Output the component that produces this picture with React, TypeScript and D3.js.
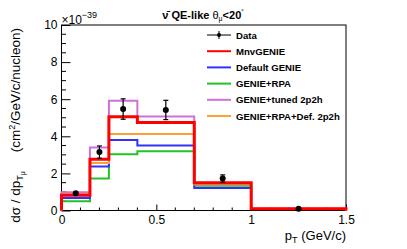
import * as d3 from 'd3';
import { useEffect, useRef } from 'react';

// bin edges in pT (GeV/c)
const binEdges = [0, 0.15, 0.25, 0.4, 0.7, 1.0, 1.5];

// cross sections, units of 1e-39 cm^2/GeV/c/nucleon
const mnvGenie = [0.82, 2.76, 5.05, 4.74, 1.5, 0.1];
const defaultGenie = [0.68, 2.37, 3.8, 3.51, 1.21, 0.08];
const genieRpa = [0.5, 1.72, 3.03, 3.19, 1.34, 0.08];
const genieTuned2p2h = [0.99, 3.39, 5.91, 5.07, 1.45, 0.1];
const genieRpaDef2p2h = [0.9, 2.56, 4.12, 4.12, 1.4, 0.09];

const dataX = [0.075, 0.2, 0.325, 0.55, 0.85, 1.25];
const dataY = [0.93, 3.15, 5.47, 5.42, 1.72, 0.1];
const dataErr = [0.08, 0.33, 0.55, 0.52, 0.2, 0.03];

const legendLabels = ['Data', 'MnvGENIE', 'Default GENIE', 'GENIE+RPA', 'GENIE+tuned 2p2h', 'GENIE+RPA+Def. 2p2h'];
const yTicks = [0, 2, 4, 6, 8, 10];
const xTicks = [0, 0.5, 1, 1.5];

const FONT = '"Liberation Sans", Arial, Helvetica, sans-serif';

function App() {
    const ref = useRef<SVGSVGElement>(null);

    useEffect(() => {
        const svg = d3.select(ref.current);
        svg.selectAll('*').remove();

        const left = 61.5, right = 346, top = 25, bottom = 210.5;
        const x = d3.scaleLinear().domain([0, 1.5]).range([left, right]);
        const y = d3.scaleLinear().domain([0, 10]).range([bottom, top]);

        // frame
        svg.append('rect')
            .attr('x', left).attr('y', top)
            .attr('width', right - left).attr('height', bottom - top)
            .attr('fill', 'none').attr('stroke', '#000').attr('stroke-width', 1);

        // y axis
        const yAxis = svg.append('g')
            .attr('transform', `translate(${left},0)`)
            .call(d3.axisLeft(y).tickValues(yTicks).tickSizeInner(-9).tickSizeOuter(0).tickPadding(4).tickFormat(d3.format('d')));
        yAxis.select('.domain').remove();
        yAxis.selectAll('text').attr('font-family', FONT).attr('font-size', 12).attr('fill', '#000');
        yAxis.selectAll('line').attr('stroke', '#000');
        svg.append('g').selectAll('line')
            .data(d3.range(0, 10.01, 0.5).filter(v => v % 2 !== 0))
            .join('line')
            .attr('x1', left).attr('x2', left + 4.5)
            .attr('y1', d => y(d)).attr('y2', d => y(d))
            .attr('stroke', '#000');

        // x axis
        const xAxis = svg.append('g')
            .attr('transform', `translate(0,${bottom})`)
            .call(d3.axisBottom(x).tickValues(xTicks).tickSizeInner(-6).tickSizeOuter(0).tickPadding(5).tickFormat(d3.format('')));
        xAxis.select('.domain').remove();
        xAxis.selectAll('text').attr('font-family', FONT).attr('font-size', 12).attr('fill', '#000');
        xAxis.selectAll('line').attr('stroke', '#000');
        svg.append('g').selectAll('line')
            .data(d3.range(0, 1.501, 0.1).filter((_, i) => i % 5 !== 0))
            .join('line')
            .attr('x1', d => x(d)).attr('x2', d => x(d))
            .attr('y1', bottom).attr('y2', bottom - 3)
            .attr('stroke', '#000');

        // exponent
        const ex = svg.append('text').attr('x', left).attr('y', 24)
            .attr('font-family', FONT).attr('font-size', 12);
        ex.append('tspan').text('×10');
        ex.append('tspan').attr('dy', -6).attr('font-size', 9).text('−39');

        // histograms
        const outline = (vals: number[]) => {
            const pts: [number, number][] = [[binEdges[0], 0]];
            vals.forEach((v, i) => {
                pts.push([binEdges[i], v]);
                pts.push([binEdges[i + 1], v]);
            });
            pts.push([binEdges[binEdges.length - 1], 0]);
            return pts;
        };
        const line = d3.line<[number, number]>().x(d => x(d[0])).y(d => y(d[1]));

        const series = [
            { vals: genieRpa, color: '#22c322', w: 2 },
            { vals: defaultGenie, color: '#3030ff', w: 2 },
            { vals: genieRpaDef2p2h, color: '#ffa035', w: 2 },
            { vals: genieTuned2p2h, color: '#d070d8', w: 2 },
            { vals: mnvGenie, color: '#ff0000', w: 3 },
        ];
        svg.append('g').selectAll('path')
            .data(series)
            .join('path')
            .attr('d', d => line(outline(d.vals)))
            .attr('fill', 'none')
            .attr('stroke', d => d.color)
            .attr('stroke-width', d => d.w);

        // data points
        const pts = svg.append('g');
        dataX.forEach((xv, i) => {
            const cx = x(xv);
            const y1 = y(dataY[i] + dataErr[i]);
            const y2 = y(dataY[i] - dataErr[i]);
            pts.append('line').attr('x1', cx).attr('x2', cx).attr('y1', y1).attr('y2', y2).attr('stroke', '#000').attr('stroke-width', 1.2);
            if (dataErr[i] > 0.15) {
                pts.append('line').attr('x1', cx - 2.5).attr('x2', cx + 2.5).attr('y1', y1).attr('y2', y1).attr('stroke', '#000').attr('stroke-width', 1.2);
                pts.append('line').attr('x1', cx - 2.5).attr('x2', cx + 2.5).attr('y1', y2).attr('y2', y2).attr('stroke', '#000').attr('stroke-width', 1.2);
            }
            pts.append('circle').attr('cx', cx).attr('cy', y(dataY[i])).attr('r', 3).attr('fill', '#000');
        });

        // legend
        const legendColors = ['#000', '#ff0000', '#3030ff', '#22c322', '#d070d8', '#ffa035'];
        const lg = svg.append('g');
        legendLabels.forEach((lab, i) => {
            const ly = 35 + i * 16.2;
            lg.append('line').attr('x1', 207).attr('x2', 231).attr('y1', ly).attr('y2', ly)
                .attr('stroke', legendColors[i]).attr('stroke-width', i === 0 ? 1 : 2);
            if (i === 0) {
                lg.append('line').attr('x1', 219).attr('x2', 219).attr('y1', ly - 4).attr('y2', ly + 4).attr('stroke', '#000');
                lg.append('circle').attr('cx', 219).attr('cy', ly).attr('r', 2).attr('fill', '#000');
            }
            lg.append('text').attr('x', 236).attr('y', ly + 3.5)
                .attr('font-family', FONT).attr('font-size', 9.6).attr('font-weight', 'bold').text(lab);
        });

        // title
        const t = svg.append('text').attr('x', 203).attr('y', 19).attr('text-anchor', 'middle')
            .attr('font-family', FONT).attr('font-size', 11).attr('font-weight', 'bold');
        t.append('tspan').text('ν̄ QE-like  ');
        t.append('tspan').attr('font-weight', 'normal').text('θ');
        t.append('tspan').attr('font-weight', 'normal').attr('font-size', 7).attr('dy', 2).text('μ');
        t.append('tspan').attr('dy', -2).text('<20');
        t.append('tspan').attr('font-size', 6).attr('dy', -6).text('°');

        // x title
        const xt = svg.append('text').attr('x', 346).attr('y', 240).attr('text-anchor', 'end')
            .attr('font-family', FONT).attr('font-size', 13);
        xt.append('tspan').text('p');
        xt.append('tspan').attr('font-size', 9).attr('dy', 3).text('T');
        xt.append('tspan').attr('dy', -3).text(' (GeV/c)');

        // y title
        const yt = svg.append('text').attr('transform', `translate(20,28) rotate(-90)`).attr('text-anchor', 'end')
            .attr('font-family', FONT).attr('font-size', 13.5);
        yt.append('tspan').text('dσ / dp');
        yt.append('tspan').attr('font-size', 9).attr('dy', 3).text('T');
        yt.append('tspan').attr('font-size', 7).attr('dy', 2).text('μ');
        yt.append('tspan').attr('dy', -5).attr('xml:space', 'preserve').text('     (cm');
        yt.append('tspan').attr('font-size', 9).attr('dy', -5).text('2');
        yt.append('tspan').attr('dy', 5).text('/GeV/c/nucleon)');
    }, []);

    return (
        <div style={{ position: 'fixed', left: 0, top: 0 }}>
            <svg ref={ref} width={407} height={249} style={{ display: 'block', background: '#fff' }} />
        </div>
    );
}

export default App;
